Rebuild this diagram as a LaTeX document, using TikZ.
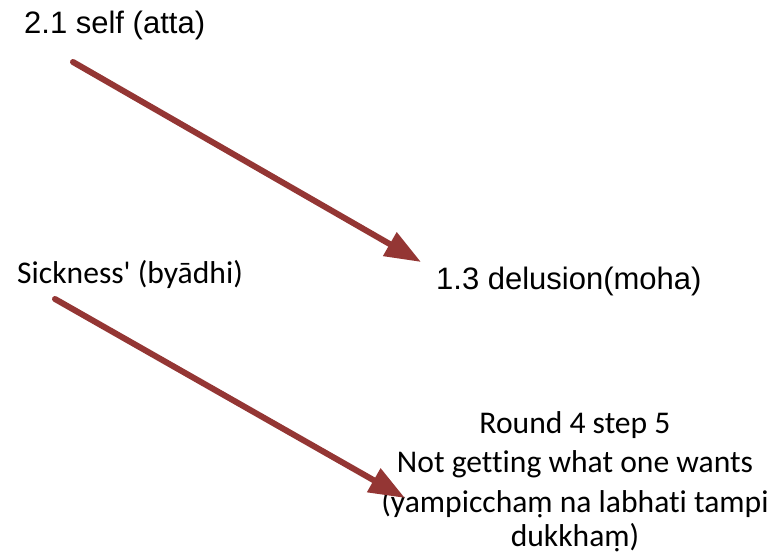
\documentclass[tikz,border=0pt]{standalone}
\usepackage{fontspec}
\setmainfont{Carlito}[Ligatures=NoCommon]
\newfontfamily\arialfont{Liberation Sans}
\usepackage{xcolor}
\usepackage{tikz}
\usetikzlibrary{arrows.meta}
\definecolor{arrowred}{HTML}{943634}

\begin{document}
\begin{tikzpicture}[
    x=1pt, y=-1pt,
    lab/.style={inner sep=0pt, anchor=base west, font=\fontsize{31.6}{39.5}\selectfont},
    labsans/.style={inner sep=0pt, anchor=base west, font=\arialfont\fontsize{31}{37}\selectfont},
    flow/.style={-{Triangle[length=36pt, width=26pt]}, line width=6pt, draw=arrowred, line cap=round}
]
\useasboundingbox (0,0) rectangle (773,554);

% labels
\node[labsans] (self) at (24,33) {2.1 self (atta)};
\node[labsans] (delusion) at (436,289) {1.3 delusion(moha)};
\node[lab] (sickness) at (17,283) {Sickness\textquotesingle{} (byādhi)};
\node[lab, anchor=north, align=center] (wants) at (575,411)
    {Round 4 step 5\\Not getting what one wants\\(yampicchaṃ na labhati tampi\\[-5pt]dukkhaṃ)};

% arrow ends
\coordinate (self-tail) at (73,62);
\coordinate (delusion-tip) at (421,262);
\coordinate (sickness-tail) at (55,299);
\coordinate (wants-tip) at (405,498);

\draw[flow] (self-tail) -- (delusion-tip);
\draw[flow] (sickness-tail) -- (wants-tip);
\end{tikzpicture}
\end{document}
